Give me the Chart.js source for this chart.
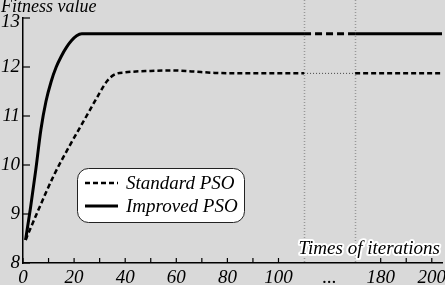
<!DOCTYPE html>
<html>
<head>
<meta charset="utf-8">
<script src="https://cdn.jsdelivr.net/npm/chart.js@4"></script>
<style>
  html, body { margin: 0; padding: 0; background: #d9d9d9; }
  #wrap { width: 445px; height: 285px; }
</style>
</head>
<body>
<div id="wrap"><canvas id="c" width="445" height="285"></canvas></div>
<script>
var standardIter = [1, 6, 12, 18, 24, 30, 33, 36, 40, 50, 58, 66, 75, 90, 110, 170, 204];
var standardFit  = [8.47, 9.08, 9.78, 10.37, 10.92, 11.47, 11.72, 11.85, 11.89, 11.92, 11.93, 11.91, 11.88, 11.87, 11.87, 11.87, 11.87];
var improvedIter = [1, 3, 5, 7, 9, 11, 13, 15, 17, 19, 21, 23, 40, 80, 110, 170, 204];
var improvedFit  = [8.47, 9.15, 9.9, 10.72, 11.3, 11.7, 12.0, 12.22, 12.4, 12.54, 12.64, 12.68, 12.68, 12.68, 12.68, 12.68, 12.68];
var xLabels = ['0', '20', '40', '60', '80', '100', '180', '200'];
var yLabels = ['8', '9', '10', '11', '12', '13'];

// broken x axis: 110..170 squeezed into 20 units
var breakFrom = 110, breakTo = 170, breakWidth = 20;
function toAxis(x) {
  if (x <= breakFrom) return x;
  if (x >= breakTo) return x - (breakTo - breakFrom) + breakWidth;
  return breakFrom + (x - breakFrom) / (breakTo - breakFrom) * breakWidth;
}
function fromAxis(v) {
  if (v <= breakFrom) return v;
  if (v >= breakFrom + breakWidth) return v + (breakTo - breakFrom) - breakWidth;
  return null;
}
function pts(xs, ys) {
  return xs.map(function (x, i) { return { x: toAxis(x), y: ys[i] }; });
}
function inBreak(ctx) {
  return ctx.p0.parsed.x >= breakFrom && ctx.p1.parsed.x <= breakFrom + breakWidth;
}

var serif = 'Liberation Serif, Times New Roman, serif';

var decor = {
  id: 'decor',
  beforeDraw: function (chart) {
    var c = chart.ctx;
    c.save();
    c.fillStyle = '#d9d9d9';
    c.fillRect(0, 0, chart.width, chart.height);
    c.restore();
  },
  beforeDatasetsDraw: function (chart) {
    var c = chart.ctx, xs = chart.scales.x, a = chart.chartArea;
    c.save();
    c.strokeStyle = '#999';
    c.lineWidth = 1.5;
    c.setLineDash([1, 2]);
    [breakFrom, breakFrom + breakWidth].forEach(function (v) {
      var px = Math.round(xs.getPixelForValue(v)) + 0.5;
      c.beginPath(); c.moveTo(px, 0); c.lineTo(px, a.bottom); c.stroke();
    });
    c.restore();
  },
  afterDraw: function (chart) {
    var c = chart.ctx, xs = chart.scales.x, ys = chart.scales.y, a = chart.chartArea;
    c.save();
    c.strokeStyle = '#000';
    c.lineWidth = 1.2;
    // inward ticks
    xs.ticks.forEach(function (t) {
      if (fromAxis(t.value) === null || (t.value > breakFrom - 1 && t.value < breakFrom + breakWidth + 1)) return;
      var px = xs.getPixelForValue(t.value);
      c.beginPath(); c.moveTo(px, a.bottom); c.lineTo(px, a.bottom - 5); c.stroke();
    });
    ys.ticks.forEach(function (t) {
      var py = ys.getPixelForValue(t.value);
      var len = Number.isInteger(t.value) ? 7 : 5;
      c.beginPath(); c.moveTo(a.left, py); c.lineTo(a.left + len, py); c.stroke();
    });

    // axis titles
    c.fillStyle = '#000';
    c.font = 'italic 18px ' + serif;
    c.textBaseline = 'alphabetic';
    c.textAlign = 'left';
    c.fillText('Fitness value', 1, 12);

    c.font = 'italic 19px ' + serif;
    c.textAlign = 'right';
    c.lineJoin = 'round';
    c.strokeStyle = '#fff';
    c.lineWidth = 4;
    c.strokeText('Times of iterations', 440, 254);
    c.fillText('Times of iterations', 440, 254);

    // legend box
    var lx = 77, ly = 168, lw = 167, lh = 54, r = 11;
    c.beginPath();
    c.roundRect(lx + 0.5, ly + 0.5, lw, lh, r);
    c.fillStyle = '#fff';
    c.fill();
    c.strokeStyle = '#222';
    c.lineWidth = 1;
    c.stroke();
    chart.data.datasets.forEach(function (ds, i) {
      var yy = ly + 15 + i * 23;
      c.strokeStyle = '#000';
      c.lineWidth = ds.borderWidth;
      c.setLineDash(ds.borderDash || []);
      c.beginPath(); c.moveTo(lx + 8, yy); c.lineTo(lx + 41, yy); c.stroke();
      c.setLineDash([]);
      c.fillStyle = '#000';
      c.font = 'italic 19px ' + serif;
      c.textAlign = 'left';
      c.textBaseline = 'middle';
      c.fillText(ds.label, lx + 49, yy + 1);
    });
    c.restore();
  }
};

new Chart(document.getElementById('c'), {
  type: 'line',
  data: {
    datasets: [{
      label: 'Standard PSO',
      data: pts(standardIter, standardFit),
      borderColor: '#000',
      borderWidth: 2.5,
      borderDash: [5, 3],
      pointRadius: 0,
      cubicInterpolationMode: 'monotone',
      segment: {
        borderDash: function (ctx) { return inBreak(ctx) ? [1, 2] : undefined; },
        borderWidth: function (ctx) { return inBreak(ctx) ? 1 : undefined; },
        borderColor: function (ctx) { return inBreak(ctx) ? '#444' : undefined; }
      }
    }, {
      label: 'Improved PSO',
      data: pts(improvedIter, improvedFit),
      borderColor: '#000',
      borderWidth: 3,
      pointRadius: 0,
      cubicInterpolationMode: 'monotone',
      segment: {
        borderDash: function (ctx) { return inBreak(ctx) ? [7, 4] : undefined; }
      }
    }]
  },
  options: {
    responsive: false,
    animation: false,
    layout: { padding: { top: 18, right: 3, left: 0, bottom: 0 } },
    plugins: { legend: { display: false }, tooltip: { enabled: false } },
    scales: {
      x: {
        type: 'linear',
        min: 0,
        max: toAxis(204),
        grid: { display: false, drawTicks: false },
        border: { display: true, color: '#000', width: 1.5 },
        ticks: {
          stepSize: 10,
          includeBounds: false,
          autoSkip: false,
          maxRotation: 0,
          padding: 4,
          color: '#000',
          font: { family: serif, style: 'italic', size: 19 },
          callback: function (v) {
            if (v === breakFrom + breakWidth / 2) return '...';
            var real = fromAxis(v);
            return real !== null && xLabels.indexOf(String(real)) >= 0 ? String(real) : '';
          }
        },
        afterFit: function (s) { s.height = 22; s.paddingLeft = 0; s.paddingRight = 0; }
      },
      y: {
        min: 8,
        max: 13,
        grid: { display: false, drawTicks: false },
        border: { display: true, color: '#000', width: 1.5 },
        ticks: {
          stepSize: 0.5,
          padding: 3,
          color: '#000',
          // top label sits a little below its tick, as in the original
          font: function (ctx) {
            var top = ctx.tick && ctx.tick.value === 13;
            return { family: serif, style: 'italic', size: 19, lineHeight: top ? 0.45 : 1.2 };
          },
          callback: function (v) {
            if (v === 13) return ['', '13'];
            return yLabels.indexOf(String(v)) >= 0 ? String(v) : '';
          }
        },
        afterFit: function (s) { s.width = 23; s.paddingTop = 0; s.paddingBottom = 0; }
      }
    }
  },
  plugins: [decor]
});
</script>
</body>
</html>
